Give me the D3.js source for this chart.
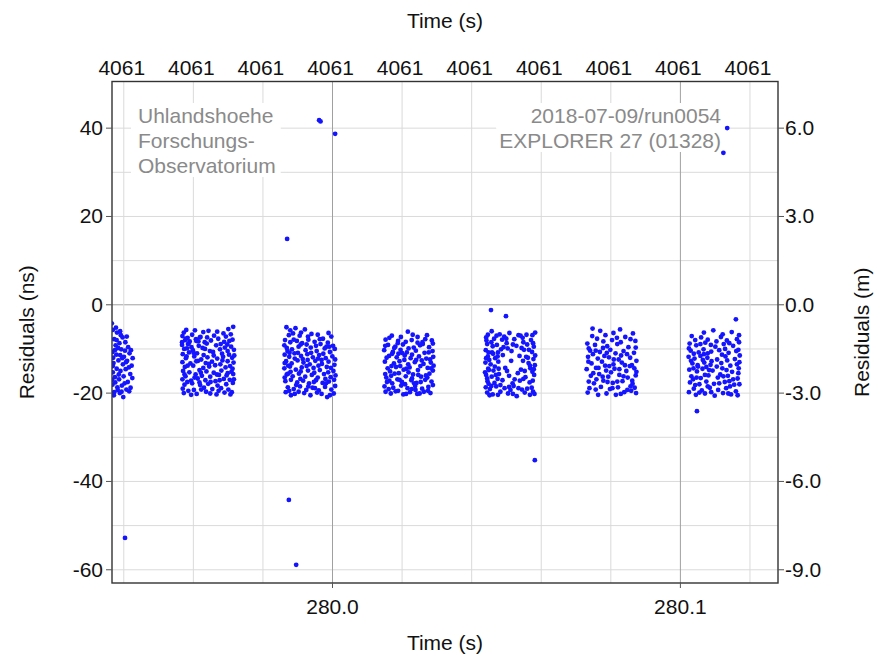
<!DOCTYPE html>
<html lang="en">
<head>
<meta charset="UTF-8">
<title>Residuals</title>
<script src="https://d3js.org/d3.v7.min.js"></script>
<style>
  body { margin: 0; background: #fff; }
  svg { display: block; font-family: "Liberation Sans", Arial, sans-serif; }
  .lbl { font-size: 21px; fill: #111; }
  .note { font-size: 21px; fill: #8a8a8a; }
</style>
</head>
<body>
<svg id="chart" width="877" height="655"></svg>
<script>
// tick values / labels
const yTicks = [40, 20, 0, -20, -40, -60];
const yGrid = [40, 30, 20, 10, 0, -10, -20, -30, -40, -50, -60];
const xGrid = [279.94, 279.96, 279.98, 280.00, 280.02, 280.04, 280.06, 280.08, 280.10, 280.12];
const topLabels = ["4061", "4061", "4061", "4061", "4061", "4061", "4061", "4061", "4061", "4061"];
const xTicks = [280.0, 280.1];
const xDark = [280.0, 280.1];
const noteLeft = ["Uhlandshoehe", "Forschungs-", "Observatorium"];
const noteRight = ["2018-07-09/run0054", "EXPLORER 27 (01328)"];

// residuals: [time offset from 280 s in ms, residual in ns]
const pass1 = [[-63.0,-5.8],[-62.6,-7.9],[-61.8,-6.4],[-60.9,-6.1],[-60.2,-7.5],[-62.2,-9.3],[-61.1,-8.8],[-59.4,-8.6],[-58.6,-9.7],[-63.1,-10.8],[-62.0,-11.4],[-60.6,-10.2],[-59.8,-11.9],[-58.2,-11.1],[-61.4,-12.7],[-62.8,-13.3],[-60.1,-13.6],[-58.9,-12.8],[-57.6,-13.9],[-61.9,-14.6],[-63.0,-15.4],[-60.8,-15.1],[-59.3,-14.7],[-58.0,-15.8],[-62.4,-16.5],[-61.2,-17.0],[-59.9,-16.3],[-58.7,-17.6],[-63.1,-18.2],[-61.7,-18.8],[-60.4,-18.4],[-59.1,-19.3],[-62.6,-19.9],[-61.0,-20.1],[-57.9,-18.9],[-60.0,-21.0],[-62.9,-12.1],[-59.5,-10.5],[-61.5,-9.9],[-57.4,-16.7],[-63.3,-4.3],[-62.3,-17.7],[-60.3,-12.2],[-58.4,-14.3],[-61.6,-19.4],[-60.7,-7.0],
  [-62.1,-5.3],[-59.0,-7.3],[-57.8,-10.4],[-63.0,-14.0],[-61.3,-15.9],[-59.6,-17.9],[-57.3,-12.2],[-62.7,-20.6],[-60.5,-19.8],[-58.3,-19.7],[-61.9,-8.1],[-63.2,-17.1],[-59.2,-13.1],[-60.9,-11.5],[-62.4,-10.4]];
const pass2 = [[-42.6,-6.4],[-39.4,-5.9],[-35.5,-6.0],[-31.2,-6.6],[-28.4,-5.1],[-43.0,-7.2],[-41.5,-7.6],[-40.2,-6.9],[-37.8,-7.4],[-33.9,-7.1],[-30.5,-7.3],[-29.1,-6.8],[-42.2,-8.1],[-40.9,-8.4],[-39.1,-7.9],[-36.6,-8.6],[-34.8,-8.2],[-32.7,-7.8],[-31.0,-8.5],[-28.6,-8.0],[-43.1,-9.2],[-41.4,-9.0],[-38.3,-9.4],[-36.0,-8.9],[-33.3,-9.3],[-30.1,-9.1],[-29.0,-9.6],[-42.5,-10.1],[-40.0,-10.4],[-37.2,-9.9],[-35.1,-10.6],[-32.2,-10.2],[-30.8,-9.8],[-28.2,-10.3],[-42.9,-11.3],[-41.1,-10.9],[-38.8,-11.1],[-36.9,-11.5],[-34.2,-10.8],[-31.6,-11.2],[-29.6,-11.4],[-42.0,-12.2],[-39.6,-11.8],[-37.6,-12.5],[-35.8,-12.0],[-33.0,-12.3],[-31.3,-11.9],[-28.7,-12.1],[-43.0,-13.1],[-40.7,-13.4],[-38.5,-12.8],[-36.3,-13.3],[-34.5,-13.0],[-32.1,-13.6],[-30.0,-12.9],[-28.3,-13.2],[-42.3,-14.2],[-39.9,-13.9],[-37.0,-14.4],[-35.3,-14.1],[-33.6,-13.8],[-30.6,-14.3],[-29.3,-14.0],[-42.8,-15.1],[-41.0,-15.4],[-38.1,-14.9],[-36.1,-15.2],[-34.0,-15.5],[-31.8,-15.0],[-28.9,-15.3],[-42.1,-16.3],[-39.2,-15.9],[-37.4,-16.2],[-35.0,-16.4],[-32.5,-16.0],[-30.3,-16.1],[-28.4,-15.8],[-43.0,-17.0],[-40.5,-17.3],[-38.6,-16.8],[-36.4,-17.2],[-33.5,-17.4],[-31.1,-16.9],[-29.4,-17.1],[-42.4,-18.2],[-40.2,-17.9],[-37.9,-18.3],[-35.6,-18.0],[-32.9,-18.4],[-30.4,-18.1],[-28.5,-17.8],[-42.9,-19.1],[-39.7,-19.4],[-36.8,-18.9],[-34.4,-19.2],[-31.9,-19.0],[-29.8,-19.3],[-42.6,-20.1],[-38.9,-20.3],[-36.2,-19.8],[-33.2,-20.4],[-30.9,-20.0],[-28.8,-19.9],[-42.0,-7.8],[-41.2,-8.9],[-40.4,-9.7],[-39.0,-8.3],[-41.7,-10.0],[-38.0,-7.5],
  [-41.9,-5.8],[-37.0,-6.3],[-33.0,-6.2],[-29.8,-5.6],[-43.1,-8.6],[-38.4,-8.4],[-35.9,-7.5],[-32.0,-9.0],[-29.5,-8.3],[-41.8,-11.8],[-39.8,-11.0],[-36.5,-10.1],[-34.0,-11.6],[-30.0,-10.6],[-28.1,-11.6],[-41.5,-13.9],[-39.0,-12.9],[-35.4,-13.5],[-31.5,-12.7],[-28.6,-14.6],[-42.4,-15.9],[-39.5,-16.6],[-37.7,-15.5],[-33.1,-15.9],[-30.0,-15.6],[-41.6,-17.6],[-38.1,-17.7],[-34.9,-17.6],[-32.3,-17.2],[-28.2,-17.0],[-41.3,-19.6],[-37.6,-19.3],[-35.0,-20.2],[-32.6,-19.6],[-29.2,-20.4],[-40.5,-20.5]];
const pass3 = [[-13.1,-5.2],[-10.5,-5.4],[-7.8,-5.7],[-5.9,-6.7],[-0.2,-7.3],[-12.4,-7.0],[-11.2,-6.6],[-9.3,-7.1],[-4.1,-6.9],[-2.6,-7.8],[-13.5,-8.1],[-12.0,-8.6],[-10.1,-8.3],[-8.6,-8.8],[-6.8,-8.0],[-5.0,-8.5],[-3.3,-9.0],[-1.2,-8.7],[0.3,-9.4],[-13.0,-9.9],[-11.5,-10.2],[-9.6,-9.6],[-7.6,-10.4],[-6.1,-9.8],[-4.4,-10.6],[-2.1,-10.0],[-0.6,-10.8],[0.8,-10.1],[-13.6,-11.4],[-12.3,-11.9],[-10.8,-11.1],[-8.9,-11.7],[-7.1,-11.3],[-5.5,-12.0],[-3.7,-11.5],[-1.8,-12.2],[0.1,-11.8],[-13.2,-12.9],[-11.6,-13.4],[-9.9,-12.7],[-8.2,-13.2],[-6.4,-13.6],[-4.8,-12.8],[-2.9,-13.5],[-1.0,-13.0],[0.7,-13.7],[-13.7,-14.5],[-12.1,-14.1],[-10.4,-14.8],[-8.7,-14.3],[-6.9,-15.0],[-5.3,-14.4],[-3.5,-14.9],[-1.5,-14.2],[0.4,-15.1],[-13.0,-15.9],[-11.3,-16.3],[-9.5,-15.7],[-7.7,-16.4],[-5.8,-16.0],[-4.1,-16.6],[-2.3,-15.8],[-0.4,-16.5],[1.0,-16.1],[-13.4,-17.4],[-11.8,-17.1],[-10.0,-17.7],[-8.3,-17.3],[-6.6,-17.9],[-4.6,-17.2],[-2.7,-17.8],[-0.9,-17.5],[-12.7,-18.8],[-11.0,-19.2],[-9.2,-18.6],[-7.4,-19.4],[-5.6,-18.9],[-3.8,-19.5],[-2.0,-18.7],[-0.2,-19.3],[0.9,-18.5],[-13.3,-19.9],[-10.7,-20.3],[-8.0,-20.1],[-6.2,-20.6],[-4.3,-20.0],[-1.4,-21.0],[0.5,-20.2],[-12.8,-10.6],[-9.0,-9.1],[-6.0,-11.0],[-3.0,-12.6],[-11.9,-15.3],[-7.3,-14.0],[-1.9,-16.9],[-10.3,-18.3],[-4.9,-19.0],[-8.4,-12.4],[-0.8,-9.6],[-12.6,-13.9],
  [-12.0,-5.9],[-8.9,-6.4],[-6.9,-7.3],[-3.5,-7.9],[-1.0,-6.5],[-13.7,-9.3],[-11.0,-8.0],[-7.3,-9.1],[-4.6,-9.4],[-1.6,-9.6],[-12.2,-11.0],[-9.8,-11.0],[-4.0,-12.3],[-2.5,-11.2],[0.9,-12.5],[-13.6,-13.3],[-10.7,-12.3],[-7.0,-12.6],[-3.9,-13.9],[-0.3,-14.4],[-12.6,-15.7],[-9.0,-15.2],[-5.1,-15.5],[-1.1,-15.4],[-13.6,-16.6],[-9.1,-16.9],[-5.2,-17.6],[-1.7,-17.9],[0.6,-17.1],[-12.3,-19.6],[-9.6,-19.8],[-6.8,-18.6],[-3.0,-20.3],[-0.6,-20.6],[-11.8,-20.6]];
const pass4 = [[21.8,-6.2],[17.2,-7.1],[24.6,-7.4],[27.3,-7.0],[15.4,-8.0],[19.0,-8.3],[22.9,-8.1],[26.0,-8.6],[28.7,-8.2],[16.1,-9.2],[18.2,-9.6],[20.4,-9.1],[23.5,-9.8],[25.3,-9.3],[27.9,-9.7],[15.0,-10.4],[17.5,-10.8],[19.7,-10.3],[21.5,-10.9],[24.1,-10.5],[26.6,-11.0],[28.9,-10.6],[16.4,-11.7],[18.6,-12.0],[20.9,-11.6],[22.6,-12.2],[25.0,-11.8],[27.1,-12.3],[29.1,-11.9],[15.2,-13.0],[17.8,-13.4],[19.4,-12.9],[21.9,-13.6],[23.8,-13.1],[26.3,-13.5],[28.4,-13.2],[16.0,-14.5],[18.4,-14.2],[20.6,-14.8],[22.3,-14.3],[24.7,-14.9],[27.5,-14.4],[29.0,-15.0],[15.3,-15.8],[17.0,-16.2],[19.2,-15.6],[21.2,-16.3],[23.3,-15.9],[25.6,-16.4],[28.0,-15.7],[16.5,-17.3],[18.8,-17.0],[20.1,-17.6],[22.8,-17.2],[24.3,-17.8],[26.8,-17.1],[28.6,-17.5],[15.1,-18.6],[17.6,-18.9],[19.9,-18.4],[21.7,-19.0],[23.9,-18.5],[25.9,-19.1],[27.7,-18.7],[15.4,-19.8],[16.9,-20.2],[18.3,-19.7],[20.5,-20.4],[22.4,-19.9],[24.5,-20.3],[26.4,-19.8],[28.3,-20.1],[17.3,-11.2],[22.0,-10.0],[25.8,-12.7],[19.6,-14.0],[23.0,-16.8],[27.0,-16.1],[16.7,-15.2],[21.0,-18.1],[26.1,-9.0],[18.9,-8.8],[24.0,-19.4],[29.2,-13.9],[20.8,-12.6],[15.8,-17.6],
  [16.5,-7.6],[19.8,-7.4],[23.2,-6.9],[26.8,-7.9],[29.0,-8.9],[15.3,-9.4],[21.2,-8.5],[24.6,-8.7],[17.9,-9.9],[20.1,-11.0],[23.0,-11.4],[27.8,-10.9],[15.7,-12.1],[19.1,-11.2],[24.2,-12.6],[28.2,-12.5],[17.1,-14.0],[21.4,-14.6],[25.4,-14.0],[28.5,-14.5],[15.6,-16.6],[18.0,-15.7],[22.0,-15.4],[24.8,-16.0],[27.4,-16.6],[17.3,-17.9],[19.4,-17.1],[23.6,-17.9],[25.5,-17.6],[29.0,-18.3],[16.3,-19.2],[19.0,-19.6],[22.9,-19.2],[25.2,-20.2],[27.6,-19.6],[21.3,-20.3]];
const pass5 = [[45.9,-6.1],[48.2,-6.8],[51.0,-6.5],[53.6,-7.0],[55.9,-6.9],[58.4,-6.4],[44.3,-7.5],[46.6,-7.8],[49.5,-7.3],[52.4,-7.9],[54.8,-7.6],[57.2,-8.1],[44.6,-9.0],[45.8,-8.6],[47.4,-9.2],[50.2,-8.8],[53.0,-9.4],[56.1,-9.1],[58.0,-9.6],[44.2,-10.4],[46.0,-10.9],[48.6,-10.2],[51.6,-10.6],[55.2,-10.3],[57.5,-10.8],[44.8,-11.8],[46.9,-12.2],[49.1,-11.5],[55.8,-11.9],[57.9,-12.4],[44.1,-13.2],[45.6,-13.6],[47.8,-13.0],[56.5,-13.3],[58.3,-13.8],[44.9,-14.6],[46.4,-15.0],[49.8,-14.4],[54.3,-14.8],[57.0,-14.5],[44.3,-16.0],[45.9,-16.4],[48.0,-15.8],[50.9,-16.2],[53.4,-15.6],[55.6,-16.5],[58.1,-16.0],[44.7,-17.4],[46.7,-17.8],[49.0,-17.2],[51.9,-17.9],[54.0,-17.3],[56.8,-17.7],[44.2,-18.8],[45.4,-19.2],[47.2,-18.6],[49.6,-19.0],[52.2,-18.5],[54.6,-19.3],[57.4,-18.9],[44.6,-20.0],[46.2,-20.4],[48.4,-19.8],[50.6,-20.2],[53.1,-20.8],[55.4,-20.0],[58.2,-20.3],[44.4,-8.2],[45.2,-12.6],[44.0,-15.4],[45.0,-18.0],[46.3,-11.2],[47.6,-16.9],[48.9,-8.0],[51.3,-19.4],[51.5,-12.8],[53.9,-11.7],[50.3,-15.1],[57.6,-15.3],[56.3,-12.1],[46.8,-14.1],[57.8,-19.8],[55.0,-8.6],
  [44.8,-6.9],[47.3,-7.1],[50.1,-7.8],[54.2,-7.1],[57.6,-7.0],[46.2,-9.5],[49.3,-9.7],[52.0,-9.1],[54.5,-9.9],[57.8,-8.8],[45.0,-10.9],[47.7,-10.9],[50.5,-10.0],[56.6,-10.3],[58.4,-11.6],[44.3,-12.2],[47.6,-11.8],[54.9,-12.8],[56.9,-13.9],[45.1,-14.9],[47.9,-14.6],[55.4,-15.1],[58.0,-14.7],[44.6,-16.8],[47.1,-16.0],[52.5,-17.0],[55.0,-16.9],[57.7,-17.3],[45.8,-18.5],[48.4,-18.3],[50.9,-18.7],[53.6,-19.0],[56.1,-19.1],[45.3,-20.6],[47.7,-20.5],[52.0,-20.3],[56.9,-20.5]];
const pass6 = [[74.9,-5.5],[82.8,-5.7],[86.5,-6.6],[78.6,-7.0],[84.3,-7.4],[76.2,-7.8],[80.5,-8.1],[87.2,-8.3],[73.4,-8.9],[75.6,-9.2],[79.1,-9.5],[82.0,-9.0],[85.2,-9.7],[74.2,-10.5],[77.0,-10.8],[80.0,-10.3],[81.5,-11.1],[83.8,-10.6],[86.8,-11.0],[73.6,-11.9],[76.4,-12.3],[78.3,-11.7],[79.6,-12.0],[82.4,-12.5],[85.7,-12.1],[74.6,-13.4],[77.6,-13.0],[80.9,-13.6],[83.3,-13.2],[86.2,-13.8],[87.5,-12.8],[73.2,-14.7],[75.9,-14.4],[78.8,-15.0],[81.2,-14.6],[84.6,-15.1],[86.9,-14.5],[74.4,-16.2],[76.8,-15.8],[79.4,-16.4],[82.6,-16.0],[85.0,-16.6],[87.3,-16.1],[73.8,-17.5],[75.3,-17.9],[78.0,-17.3],[80.7,-17.8],[83.5,-17.4],[86.4,-18.0],[74.0,-19.0],[77.3,-18.7],[79.9,-19.2],[82.2,-18.8],[84.9,-19.4],[87.0,-18.9],[76.5,-20.5],[81.6,-20.5],[87.4,-20.1],[73.5,-20.0],[78.9,-20.2],[84.0,-19.9],[75.0,-11.3],[77.9,-9.9],[83.1,-11.6],[80.2,-15.4],[76.0,-17.0],[85.6,-14.0],[74.8,-7.2],[81.9,-7.6],[78.5,-13.9],[86.0,-19.6],
  [77.1,-6.0],[80.9,-6.5],[85.8,-7.9],[73.8,-10.0],[78.0,-8.4],[83.0,-8.6],[87.3,-9.8],[75.8,-10.5],[79.0,-11.0],[84.8,-11.3],[73.7,-13.0],[81.0,-12.5],[84.2,-13.8],[76.6,-14.4],[79.7,-14.0],[82.6,-14.7],[87.5,-15.3],[75.1,-15.6],[77.8,-16.4],[83.8,-16.3],[86.3,-17.3],[79.2,-17.6],[82.0,-17.5],[75.8,-19.3],[80.6,-19.0],[85.8,-18.6],[83.0,-20.3]];
const pass7 = [[109.6,-5.9],[114.9,-6.3],[103.4,-7.2],[106.1,-7.5],[108.0,-8.0],[111.8,-7.4],[113.5,-8.2],[116.4,-7.9],[102.8,-8.9],[104.7,-9.3],[107.3,-8.7],[110.2,-9.6],[112.6,-9.0],[115.3,-9.4],[117.0,-8.6],[103.1,-10.5],[105.4,-10.9],[106.8,-10.2],[109.0,-10.7],[111.3,-10.4],[114.0,-11.0],[116.2,-10.6],[102.5,-11.9],[104.2,-12.3],[105.9,-11.7],[107.9,-12.1],[110.7,-12.5],[113.1,-11.8],[115.8,-12.4],[103.6,-13.4],[105.1,-13.8],[107.0,-13.2],[108.8,-13.7],[111.9,-13.3],[114.5,-13.9],[117.1,-13.1],[102.7,-14.8],[104.9,-15.2],[106.5,-14.6],[109.4,-15.0],[112.2,-14.5],[115.0,-15.3],[103.3,-16.3],[106.0,-16.7],[108.2,-16.1],[110.9,-16.6],[113.8,-16.2],[116.6,-16.8],[102.9,-17.7],[105.6,-18.1],[107.6,-17.5],[109.8,-18.0],[112.9,-17.6],[115.6,-18.2],[104.0,-19.1],[106.3,-19.5],[108.6,-18.9],[111.0,-19.4],[113.3,-19.0],[116.1,-19.7],[104.6,-20.5],[107.2,-20.2],[110.0,-20.7],[112.4,-20.1],[114.7,-20.4],[102.6,-19.9],[104.4,-8.1],[106.9,-11.3],[110.5,-8.4],[113.0,-10.1],[105.2,-14.1],[108.4,-14.9],[111.6,-15.9],[114.2,-17.4],[103.8,-17.0],[117.2,-11.6],[109.1,-12.9],[116.8,-15.6],
  [106.9,-6.4],[112.3,-6.8],[117.0,-7.0],[102.6,-10.0],[105.9,-9.0],[108.9,-9.2],[114.2,-8.8],[104.0,-11.2],[108.0,-11.1],[112.1,-11.4],[116.8,-10.3],[103.2,-12.8],[106.6,-12.6],[113.6,-12.7],[116.4,-13.6],[103.9,-14.5],[107.6,-14.2],[110.6,-14.1],[113.4,-14.9],[116.9,-14.5],[104.8,-16.6],[107.2,-16.0],[112.5,-16.3],[115.3,-17.0],[104.4,-18.3],[108.0,-18.6],[111.3,-17.9],[114.4,-18.6],[117.1,-18.1],[105.6,-20.0],[109.0,-19.9],[113.9,-20.2],[116.6,-20.6]];
const outliers = [[-59.5,-52.9],[-12.9,14.8],[-12.4,-44.3],[-10.3,-59.0],[-3.7,41.7],[-3.3,41.4],[0.9,38.6],[45.7,-1.3],[50.0,-2.7],[58.3,-35.3],[104.9,-24.2],[113.6,39.9],[112.5,34.3],[116.1,-3.4]];

const w = 877;
const h = 655;
const plotL = 112, plotR = 778, plotT = 81.5, plotB = 583;
const nsToM = 0.15;

const svg = d3.select("#chart");

const x = d3.scaleLinear().domain([279.93676, 280.12820]).range([plotL, plotR]);
const y = d3.scaleLinear().domain([-63.11, 50.45]).range([plotB, plotT]);
const ym = d3.scaleLinear().domain(y.domain().map(d => d * nsToM)).range([plotB, plotT]);

// grid
const gy = svg.append("g")
  .attr("transform", "translate(" + plotL + ",0)")
  .call(d3.axisLeft(y).tickValues(yGrid).tickSize(-(plotR - plotL)).tickFormat(""));
gy.select(".domain").remove();
gy.selectAll("line").attr("stroke", d => d === 0 ? "#a0a0a0" : "#dadada");

const gx = svg.append("g")
  .attr("transform", "translate(0," + plotB + ")")
  .call(d3.axisBottom(x).tickValues(xGrid).tickSize(-(plotB - plotT)).tickFormat(""));
gx.select(".domain").remove();
gx.selectAll("line").attr("stroke", d => xDark.some(v => Math.abs(v - d) < 1e-9) ? "#a0a0a0" : "#dadada");

// notes with white boxes behind them
function note(lines, xPos, anchor, padL, padR) {
  const g = svg.append("g");
  const t = g.append("text").attr("class", "note").attr("text-anchor", anchor);
  t.selectAll("tspan").data(lines).enter().append("tspan")
    .attr("x", xPos)
    .attr("y", (d, i) => 123 + i * 25)
    .text(d => d);
  const b = t.node().getBBox();
  g.insert("rect", "text")
    .attr("x", b.x - padL).attr("y", b.y - 1)
    .attr("width", b.width + padL + padR).attr("height", b.height + 1)
    .attr("fill", "#fff");
}
note(noteLeft, 138, "start", 7, 5);
note(noteRight, 721, "end", 3, 4);

// points
svg.append("clipPath").attr("id", "clip")
  .append("rect").attr("x", plotL).attr("y", plotT).attr("width", plotR - plotL).attr("height", plotB - plotT);

const allPts = [].concat(pass1, pass2, pass3, pass4, pass5, pass6, pass7, outliers);
svg.append("g").attr("clip-path", "url(#clip)")
  .selectAll("circle")
  .data(allPts)
  .enter()
  .append("circle")
  .attr("cx", d => x(280 + d[0] / 1000))
  .attr("cy", d => y(d[1]))
  .attr("r", 2.4)
  .attr("fill", "#1414ff");

// frame
svg.append("rect")
  .attr("x", plotL).attr("y", plotT)
  .attr("width", plotR - plotL).attr("height", plotB - plotT)
  .attr("fill", "none").attr("stroke", "#333").attr("stroke-width", 1.4);

// axes
function styleAxis(g) {
  g.select(".domain").remove();
  g.selectAll("line").attr("stroke", "#555");
  g.selectAll("text").attr("class", "lbl").attr("fill", null);
}

svg.append("g")
  .attr("transform", "translate(" + plotL + ",0)")
  .call(d3.axisLeft(y).tickValues(yTicks).tickSize(6).tickPadding(3).tickFormat(d => String(d)))
  .call(styleAxis);

svg.append("g")
  .attr("transform", "translate(" + plotR + ",0)")
  .call(d3.axisRight(ym).tickValues(yTicks.map(d => d * nsToM)).tickSize(6).tickPadding(1).tickFormat(d => d.toFixed(1)))
  .call(styleAxis);

svg.append("g")
  .attr("transform", "translate(0," + plotT + ")")
  .call(d3.axisTop(x).tickValues(xGrid).tickSize(0).tickPadding(6.5).tickFormat((d, i) => topLabels[i]))
  .call(styleAxis)
  .selectAll("text").attr("dx", -2);

svg.append("g")
  .attr("transform", "translate(0," + plotB + ")")
  .call(d3.axisBottom(x).tickValues(xTicks).tickSize(5).tickPadding(11).tickFormat(d3.format(".1f")))
  .call(styleAxis);

// titles
svg.append("text").attr("class", "lbl").attr("text-anchor", "middle")
  .attr("x", (plotL + plotR) / 2).attr("y", 28).text("Time (s)");
svg.append("text").attr("class", "lbl").attr("text-anchor", "middle")
  .attr("x", (plotL + plotR) / 2).attr("y", 650).text("Time (s)");
svg.append("text").attr("class", "lbl").attr("text-anchor", "middle")
  .attr("transform", "translate(34," + (plotT + plotB) / 2 + ") rotate(-90)").text("Residuals (ns)");
svg.append("text").attr("class", "lbl").attr("text-anchor", "middle")
  .attr("transform", "translate(869," + (plotT + plotB) / 2 + ") rotate(-90)").text("Residuals (m)");
</script>
</body>
</html>
